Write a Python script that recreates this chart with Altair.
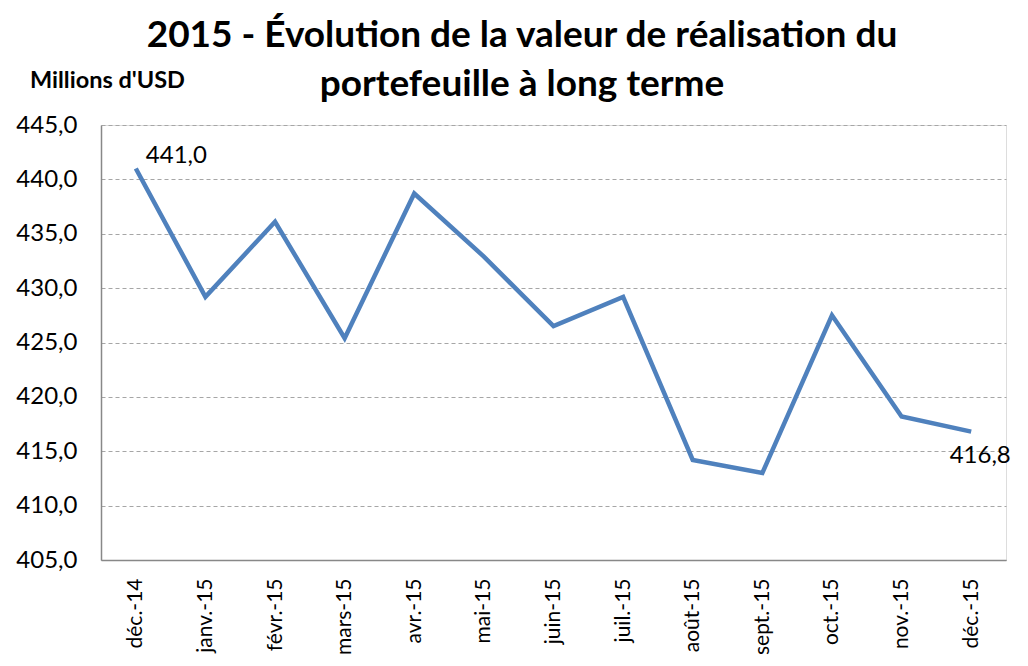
import altair as alt
import pandas as pd

months = ["déc.-14", "janv.-15", "févr.-15", "mars-15", "avr.-15", "mai-15", "juin-15",
          "juil.-15", "août-15", "sept.-15", "oct.-15", "nov.-15", "déc.-15"]
values = [441.0, 429.2, 436.1, 425.4, 438.7, 432.9, 426.5, 429.2, 414.2, 413.0, 427.5, 418.2, 416.8]
title_lines = ["2015 - Évolution de la valeur de réalisation du", "portefeuille à long terme"]
unit_label = "Millions d'USD"

FONT = "Lato"
df = pd.DataFrame({"mois": months, "valeur": values})
df["txt"] = [f"{v:.1f}".replace(".", ",") for v in values]

x = alt.X("mois:N", sort=months, title=None,
          scale=alt.Scale(padding=0.5),
          axis=alt.Axis(labelAngle=-90, labelFontSize=21, labelFont=FONT, labelColor="#000000",
                        ticks=False, labelPadding=18, domainColor="#888888", domainWidth=1.5,
                        grid=False))
y = alt.Y("valeur:Q", title=None,
          scale=alt.Scale(domain=[405, 445], nice=False, zero=False),
          axis=alt.Axis(values=[405, 410, 415, 420, 425, 430, 435, 440, 445],
                        labelExpr="replace(format(datum.value, '.1f'), '.', ',')",
                        labelFontSize=24, labelFont=FONT, labelColor="#000000",
                        ticks=False, labelPadding=24, domainColor="#888888", domainWidth=1.5,
                        grid=True, gridColor="#A6A6A6", gridDash=[4, 3], gridWidth=1.2))

base = alt.Chart(df)
line = base.mark_line(color="#4F81BD", strokeWidth=4.5).encode(x=x, y=y)

first = base.transform_filter(alt.datum.mois == "déc.-14").mark_text(
    align="left", baseline="bottom", dx=10, dy=-1, fontSize=24, font=FONT, color="#000000"
).encode(x=x, y=y, text="txt:N")
last = base.transform_filter(alt.datum.mois == "déc.-15").mark_text(
    align="center", baseline="top", dx=9, dy=12, fontSize=24, font=FONT, color="#000000"
).encode(x=x, y=y, text="txt:N")

unit = alt.Chart(pd.DataFrame({"t": [unit_label]})).mark_text(
    align="left", baseline="alphabetic", fontSize=23.5, font=FONT, fontWeight="bold", color="#000000"
).encode(x=alt.value(-71), y=alt.value(-37), text="t:N")

tdf = pd.DataFrame({"t": title_lines, "yy": [-78, -29]})
title = alt.Chart(tdf).mark_text(
    align="center", baseline="alphabetic", fontSize=37, font=FONT, fontWeight="bold", color="#000000"
).encode(x=alt.value(421), y=alt.Y("yy:Q", scale=None), text="t:N")

chart = alt.layer(line, first, last, unit, title).properties(
    width=905, height=435,
    autosize=alt.AutoSizeParams(type="none"),
    padding={"left": 93, "top": 117, "right": 10, "bottom": 98},
).configure_view(stroke=None).configure(background="white")

chart.save("out.html", embed_options={"renderer": "svg", "actions": False})
